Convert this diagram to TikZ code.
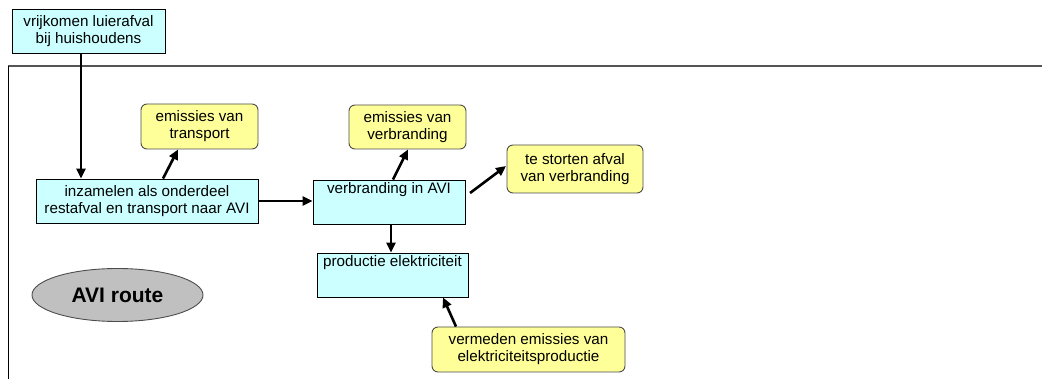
\documentclass[tikz,border=0pt]{standalone}
\usepackage{fontspec}
\setmainfont{Liberation Sans}
\usetikzlibrary{arrows.meta,shapes.geometric}
\definecolor{boxcyan}{HTML}{CCFFFF}
\definecolor{boxyellow}{HTML}{FFFF99}
\definecolor{ovalgray}{HTML}{C0C0C0}
\definecolor{framegray}{HTML}{555555}
\tikzset{
  procbox/.style={draw=black, line width=0.9pt, fill=boxcyan, inner sep=0pt, align=center},
  emisbox/.style={draw=black!70, line width=0.9pt, fill=boxyellow, rounded corners=6pt, inner sep=0pt, align=center},
  txt/.style={font=\fontsize{15.2}{17}\selectfont},
  flow/.style={line width=2.6pt, -{Triangle[length=10pt,width=9pt]}},
}
\begin{document}
\begin{tikzpicture}[x=1pt,y=-1pt]
\useasboundingbox (0,0) rectangle (1042,379);
% frame
\draw[framegray, line width=1.4pt] (8,66) -- (1042,66);
\draw[black, line width=1pt] (8,66) -- (8,379);
% boxes
\node[procbox, minimum width=153pt, minimum height=44pt] (src) at (88.5,31) {};
\node[txt, align=center] at (src.center) {vrijkomen luierafval\\bij huishoudens};
\node[procbox, minimum width=222pt, minimum height=44pt] (inz) at (147,201) {};
\node[txt, align=center] at (inz.center) {inzamelen als onderdeel\\restafval en transport naar AVI};
\node[procbox, minimum width=152pt, minimum height=44pt] (verb) at (389,202) {};
\node[txt, anchor=north] at ([yshift=1pt]verb.north) {verbranding in AVI};
\node[procbox, minimum width=151pt, minimum height=44pt] (prod) at (392.5,275) {};
\node[txt, anchor=north] at ([yshift=1pt]prod.north) {productie elektriciteit};
\node[emisbox, minimum width=117pt, minimum height=45pt] (etr) at (199.5,126.5) {};
\node[txt, align=center] at (etr.center) {emissies van\\transport};
\node[emisbox, minimum width=117pt, minimum height=44pt] (ever) at (407.5,127) {};
\node[txt, align=center] at (ever.center) {emissies van\\verbranding};
\node[emisbox, minimum width=136pt, minimum height=48pt] (stort) at (575,169) {};
\node[txt, align=center] at (stort.center) {te storten afval\\van verbranding};
\node[emisbox, minimum width=193pt, minimum height=45pt] (verm) at (528.5,349.5) {};
\node[txt, align=center] at (verm.center) {vermeden emissies van\\elektriciteitsproductie};
\node[ellipse, draw=black!70, line width=0.9pt, fill=ovalgray, minimum width=171pt, minimum height=53pt, inner sep=0pt, font=\fontsize{21}{24}\selectfont\bfseries] (avi) at (117.5,295) {AVI route};
% connectors
\draw[flow] (src.south -| 81,0) -- (inz.north -| 81,0);
\draw[flow] (inz.north -| 163,0) -- (etr.south -| 178,0);
\draw[flow] (inz.east) -- (verb.west |- inz.east);
\draw[flow] (verb.north -| 393,0) -- (ever.south -| 408,0);
\coordinate (vs) at (470,193);
\coordinate (se) at (506,166);
\draw[flow] (vs) -- (se);
\draw[flow] (verb.south -| 391,0) -- (prod.north -| 391,0);
\draw[flow] (verm.north -| 456,0) -- (prod.south -| 443,0);
\end{tikzpicture}
\end{document}
